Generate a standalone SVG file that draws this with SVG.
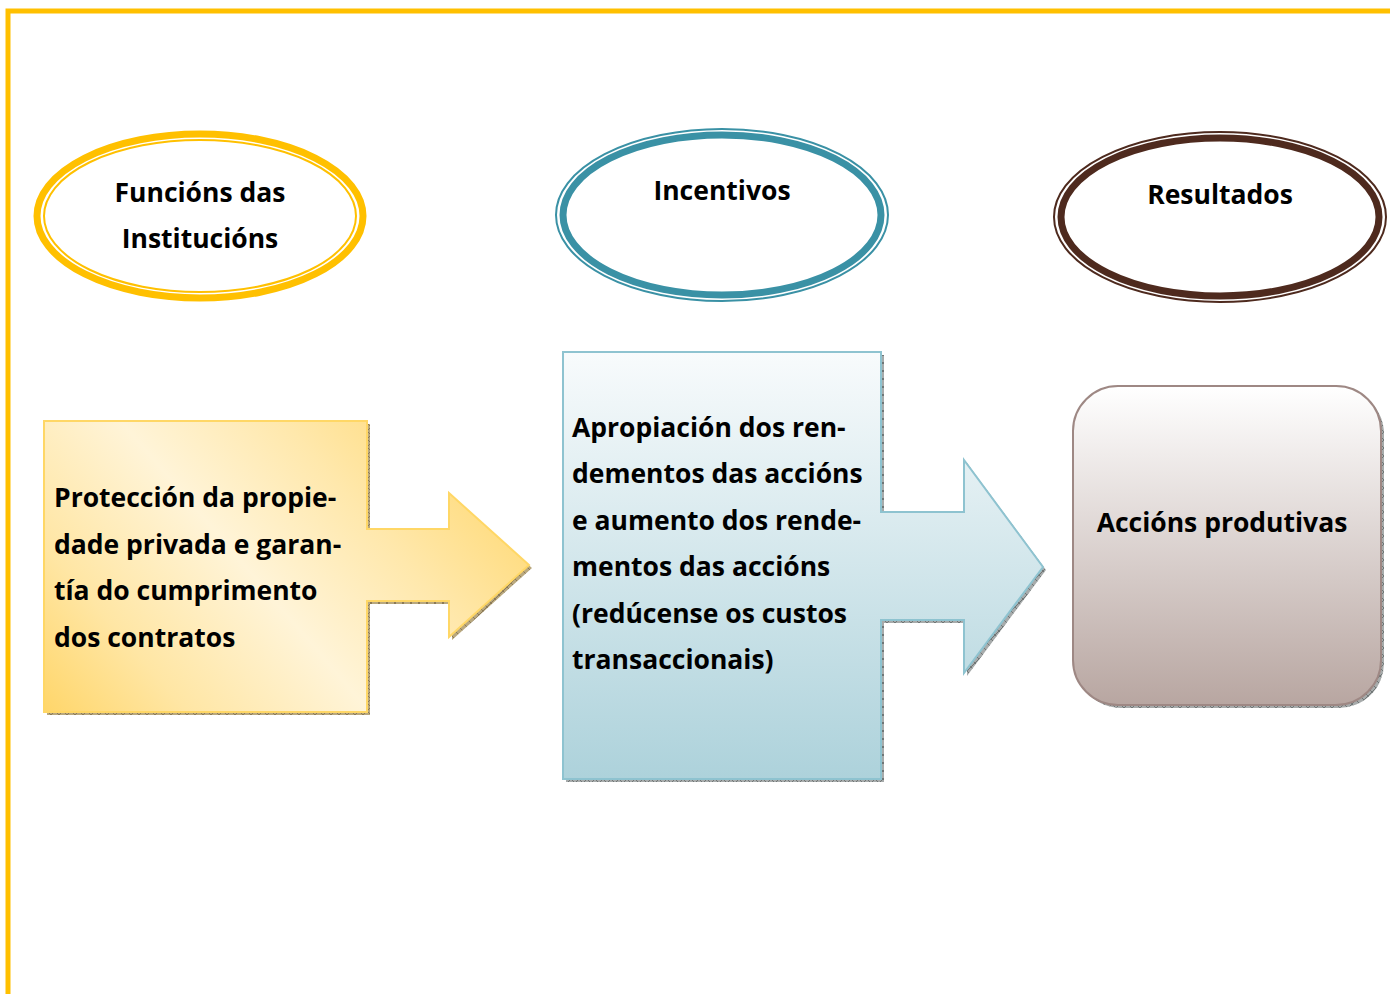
<svg xmlns="http://www.w3.org/2000/svg" width="1390" height="994" viewBox="0 0 1390 994">
<style>
  text { font-family: "Open Sans", "Liberation Sans", sans-serif; font-weight: 700; font-size: 26.5px; fill: #000; }
  .c { text-anchor: middle; }
</style>
<defs>
  <linearGradient id="gy" gradientUnits="userSpaceOnUse" x1="420" y1="390" x2="44" y2="712">
    <stop offset="0" stop-color="#FFDA78"/>
    <stop offset="0.25" stop-color="#FFE8AC"/>
    <stop offset="0.5" stop-color="#FFF4D8"/>
    <stop offset="0.78" stop-color="#FFE6A4"/>
    <stop offset="1" stop-color="#FFD66A"/>
  </linearGradient>
  <linearGradient id="gt" x1="0" y1="0" x2="0" y2="1">
    <stop offset="0" stop-color="#F8FBFC"/>
    <stop offset="1" stop-color="#ADD2DB"/>
  </linearGradient>
  <linearGradient id="gb" x1="0" y1="0" x2="0" y2="1">
    <stop offset="0" stop-color="#FFFFFF"/>
    <stop offset="1" stop-color="#B8A6A1"/>
  </linearGradient>
  <pattern id="hy" width="8" height="8" patternUnits="userSpaceOnUse">
    <rect width="8" height="8" fill="#B9A87E"/>
    <path d="M0,0 L8,8 M8,0 L0,8" stroke="#7F6F4C" stroke-width="0.8"/>
  </pattern>
  <pattern id="hg" width="8" height="8" patternUnits="userSpaceOnUse">
    <rect width="8" height="8" fill="#A7ABAB"/>
    <path d="M0,0 L8,8 M8,0 L0,8" stroke="#626868" stroke-width="0.8"/>
  </pattern>
</defs>

<g id="frame">
  <path d="M8,994 V11 H1390" fill="none" stroke="#FFC000" stroke-width="5"/>
</g>

<g id="ellipse-funcions">
  <ellipse cx="200" cy="216" rx="163" ry="82" fill="#fff" stroke="#FFC000" stroke-width="7"/>
  <ellipse cx="200" cy="216" rx="156" ry="76" fill="none" stroke="#FFC000" stroke-width="2"/>
  <text class="c" x="200" y="202">Funcións das</text>
  <text class="c" x="200" y="248">Institucións</text>
</g>

<g id="ellipse-incentivos">
  <ellipse cx="722" cy="215" rx="166" ry="86" fill="#fff" stroke="#3A91A5" stroke-width="2"/>
  <ellipse cx="722" cy="215" rx="159" ry="80" fill="none" stroke="#3A91A5" stroke-width="7"/>
  <text class="c" x="722" y="200">Incentivos</text>
</g>

<g id="ellipse-resultados">
  <ellipse cx="1220" cy="217" rx="166" ry="85" fill="#fff" stroke="#4E2A1E" stroke-width="2"/>
  <ellipse cx="1220" cy="217" rx="159" ry="79" fill="none" stroke="#4E2A1E" stroke-width="7"/>
  <text class="c" x="1220" y="204">Resultados</text>
</g>

<g id="node-proteccion">
  <path transform="translate(3,3)" d="M44,421 H367 V529 H449 V493 L529,565 L449,637 V601 H367 V712 H44 Z" fill="url(#hy)"/>
  <path d="M44,421 H367 V529 H449 V493 L529,565 L449,637 V601 H367 V712 H44 Z" fill="url(#gy)" stroke="#FFD766" stroke-width="2"/>
  <text x="54" y="507">Protección da propie-</text>
  <text x="54" y="554">dade privada e garan-</text>
  <text x="54" y="600">tía do cumprimento</text>
  <text x="54" y="647">dos contratos</text>
</g>

<g id="node-apropiacion">
  <path transform="translate(3,3)" d="M563,352 H881 V512 H964 V460 L1043,567 L964,673 V620 H881 V779 H563 Z" fill="url(#hg)"/>
  <path d="M563,352 H881 V512 H964 V460 L1043,567 L964,673 V620 H881 V779 H563 Z" fill="url(#gt)" stroke="#8EC3D0" stroke-width="2"/>
  <text x="572" y="437">Apropiación dos ren-</text>
  <text x="572" y="483">dementos das accións</text>
  <text x="572" y="530">e aumento dos rende-</text>
  <text x="572" y="576">mentos das accións</text>
  <text x="572" y="623">(redúcense os custos</text>
  <text x="572" y="669">transaccionais)</text>
</g>

<g id="node-accions">
  <rect x="1076" y="389" width="308" height="319" rx="45" fill="url(#hg)"/>
  <rect x="1073" y="386" width="308" height="319" rx="45" fill="url(#gb)" stroke="#9E8884" stroke-width="2"/>
  <text class="c" x="1222" y="532">Accións produtivas</text>
</g>

<g id="connectors"></g>
</svg>
